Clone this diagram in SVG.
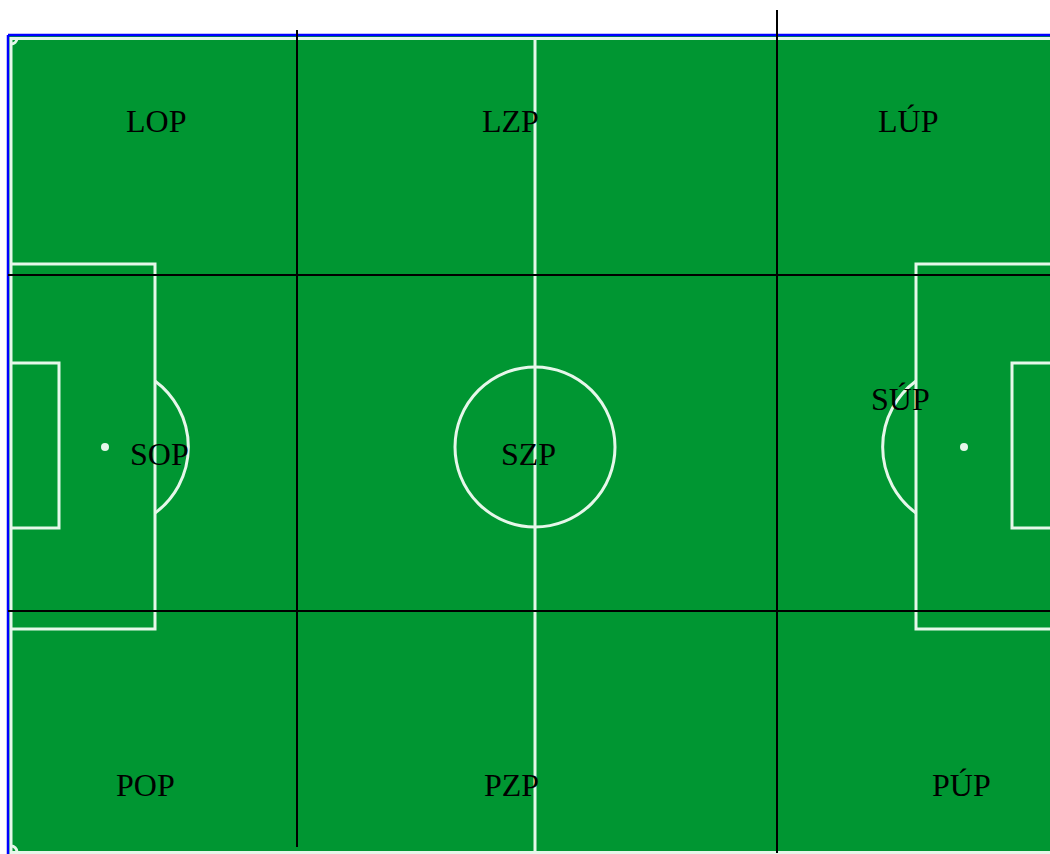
<svg xmlns="http://www.w3.org/2000/svg" width="1050" height="854" viewBox="0 0 1050 854">
<style>
.ln{fill:none;stroke:#e6f7ea;stroke-width:3}
.dv{stroke:#000;stroke-width:2}
.lb{font-family:"Liberation Serif","Times New Roman",serif;font-size:32px;fill:#000}
</style>
<rect x="0" y="0" width="1050" height="854" fill="#fff"/>
<g id="field">
<rect x="8" y="35" width="1044" height="820" fill="#009632"/>
<path d="M8 35 H1050 M8 35 V854" stroke="#0000ff" stroke-width="2.5" fill="none"/>
<path class="ln" d="M11 854 V38.5 H1050"/>
<line class="ln" x1="11" y1="852.5" x2="1050" y2="852.5" stroke-width="2"/>
<path class="ln" d="M11 44 A6 6 0 0 0 17 38.5" stroke-width="2.5"/>
<path class="ln" d="M11 846 A6 6 0 0 1 17 852" stroke-width="2.5"/>
<line class="ln" x1="535" y1="38" x2="535" y2="854"/>
<circle class="ln" cx="535" cy="447" r="80"/>
<path class="ln" d="M11 264 H155 V629 H11"/>
<path class="ln" d="M11 363 H59 V528 H11"/>
<path class="ln" d="M155 381 A82 82 0 0 1 155 513"/>
<circle cx="105" cy="447" r="4" fill="#e6f7ea"/>
<path class="ln" d="M1050 264 H916 V629 H1050"/>
<path class="ln" d="M1050 363 H1012 V528 H1050"/>
<path class="ln" d="M916 381 A82 82 0 0 0 916 513"/>
<circle cx="964" cy="447" r="4" fill="#e6f7ea"/>
</g>
<g id="connectors">
<line class="dv" x1="297" y1="30" x2="297" y2="847"/>
<line class="dv" x1="777" y1="10" x2="777" y2="853"/>
<line class="dv" x1="8" y1="275" x2="1050" y2="275"/>
<line class="dv" x1="8" y1="611" x2="1050" y2="611"/>
</g>
<g id="n-lop"><text class="lb" x="126" y="132">LOP</text></g>
<g id="n-lzp"><text class="lb" x="482" y="132">LZP</text></g>
<g id="n-lup"><text class="lb" x="878" y="132">LÚP</text></g>
<g id="n-sop"><text class="lb" x="130" y="465">SOP</text></g>
<g id="n-szp"><text class="lb" x="501" y="465">SZP</text></g>
<g id="n-sup"><text class="lb" x="871" y="410">SÚP</text></g>
<g id="n-pop"><text class="lb" x="116" y="796">POP</text></g>
<g id="n-pzp"><text class="lb" x="484" y="796">PZP</text></g>
<g id="n-pup"><text class="lb" x="932" y="796">PÚP</text></g>
</svg>
